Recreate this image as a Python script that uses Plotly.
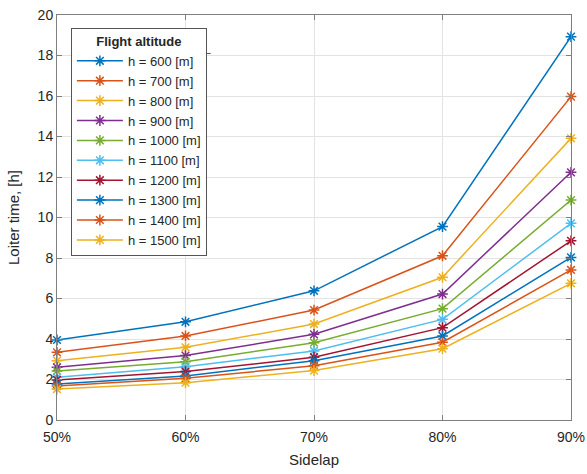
import plotly.graph_objects as go

sidelap = [50, 60, 70, 80, 90]
sidelap_labels = ["50%", "60%", "70%", "80%", "90%"]
altitudes = ["h = 600 [m]", "h = 700 [m]", "h = 800 [m]", "h = 900 [m]", "h = 1000 [m]",
             "h = 1100 [m]", "h = 1200 [m]", "h = 1300 [m]", "h = 1400 [m]", "h = 1500 [m]"]
h600 = [3.95, 4.85, 6.38, 9.55, 18.93]
h700 = [3.34, 4.15, 5.43, 8.11, 15.97]
h800 = [2.93, 3.59, 4.74, 7.05, 13.91]
h900 = [2.60, 3.18, 4.23, 6.22, 12.23]
h1000 = [2.42, 2.88, 3.82, 5.50, 10.86]
h1100 = [2.11, 2.63, 3.41, 4.97, 9.71]
h1200 = [1.98, 2.39, 3.10, 4.56, 8.85]
h1300 = [1.78, 2.17, 2.93, 4.15, 8.03]
h1400 = [1.68, 2.06, 2.68, 3.84, 7.41]
h1500 = [1.53, 1.84, 2.44, 3.52, 6.75]
series = [h600, h700, h800, h900, h1000, h1100, h1200, h1300, h1400, h1500]
colors = ["#0072BD", "#D95319", "#EDB120", "#7E2F8E", "#77AC30",
          "#4DBEEE", "#A2142F", "#0072BD", "#D95319", "#EDB120"]

fig = go.Figure()
for name, vals, c in zip(altitudes, series, colors):
    fig.add_trace(go.Scatter(
        x=sidelap, y=vals, name=name, mode="lines+markers",
        line=dict(color=c, width=1.5), cliponaxis=False,
        marker=dict(symbol="asterisk-open", size=9, color=c,
                    line=dict(color=c, width=1.5)),
    ))

axis_common = dict(
    showline=True, linecolor="#7f7f7f", linewidth=1, mirror="ticks",
    ticks="inside", ticklen=5, tickcolor="#7f7f7f",
    showgrid=True, gridcolor="#e3e3e3", gridwidth=1, zeroline=False,
    tickfont=dict(family="Liberation Sans", size=14, color="#262626"),
    automargin=False,
)

fig.update_layout(
    width=587, height=474,
    margin=dict(l=57, r=16, t=15, b=54),
    paper_bgcolor="white", plot_bgcolor="white",
    font=dict(family="Liberation Sans", size=13, color="#262626"),
    xaxis=dict(range=[50, 90], tickvals=sidelap, ticktext=sidelap_labels,
               ticklabelstandoff=4,
               title=dict(text="Sidelap", font=dict(size=15), standoff=10),
               **axis_common),
    yaxis=dict(range=[0, 20], dtick=2,
               title=dict(text="Loiter time, [h]", font=dict(size=15), standoff=14),
               **axis_common),
    legend=dict(
        x=0.027, y=0.968, xanchor="left", yanchor="top",
        bgcolor="white", bordercolor="#555555", borderwidth=1,
        font=dict(family="Liberation Sans", size=13, color="#262626"),
        title=dict(text="<b>Flight altitude</b>", side="top center",
                   font=dict(family="Liberation Sans", size=13, color="#262626")),
        tracegroupgap=0, itemwidth=46,
    ),
    showlegend=True,
    shapes=[dict(type="line", xref="paper", yref="paper",
                 x0=0.0272, x1=0.299, y0=0.905, y1=0.905,
                 line=dict(color="#555555", width=1))],
)

fig.write_html("out.html")
